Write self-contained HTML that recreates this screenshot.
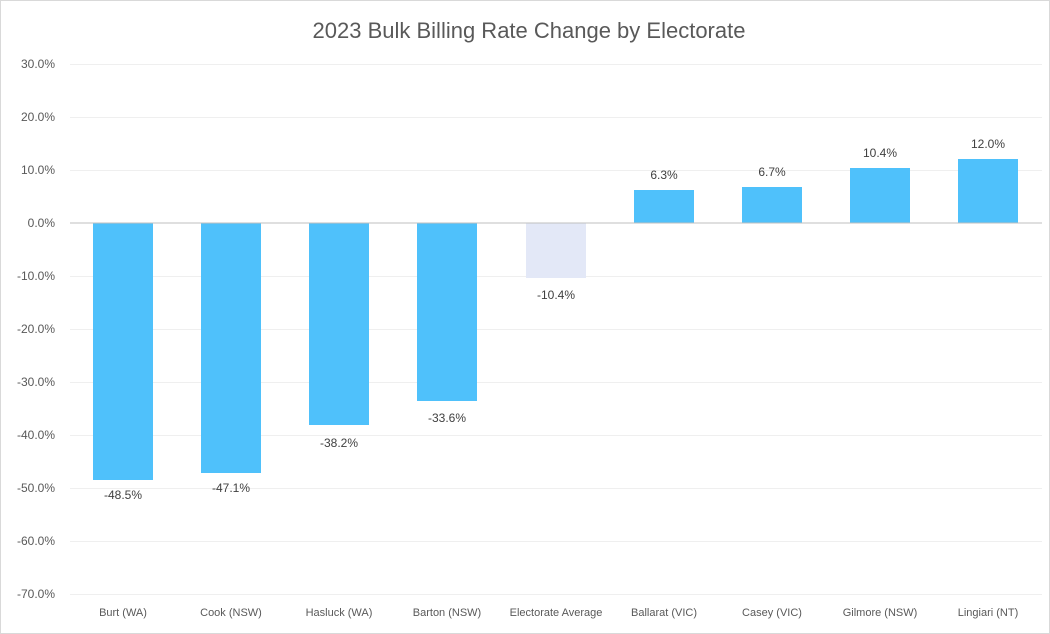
<!DOCTYPE html>
<html><head><meta charset="utf-8"><style>
body{margin:0;background:#fff;}
svg{display:block;font-family:"Liberation Sans",sans-serif;}
</style></head><body>
<svg width="1050" height="634" viewBox="0 0 1050 634">
<rect x="0.5" y="0.5" width="1049" height="633" fill="#fff" stroke="#d9d9d9"/>
<text x="529" y="38" text-anchor="middle" font-size="22" fill="#595959">2023 Bulk Billing Rate Change by Electorate</text>
<g stroke="#efefef" stroke-width="1">
<line x1="70" x2="1042" y1="64.5" y2="64.5"/>
<line x1="70" x2="1042" y1="117.5" y2="117.5"/>
<line x1="70" x2="1042" y1="170.5" y2="170.5"/>
<line x1="70" x2="1042" y1="276.5" y2="276.5"/>
<line x1="70" x2="1042" y1="329.5" y2="329.5"/>
<line x1="70" x2="1042" y1="382.5" y2="382.5"/>
<line x1="70" x2="1042" y1="435.5" y2="435.5"/>
<line x1="70" x2="1042" y1="488.5" y2="488.5"/>
<line x1="70" x2="1042" y1="541.5" y2="541.5"/>
<line x1="70" x2="1042" y1="594.5" y2="594.5"/>
</g>
<g font-size="12" fill="#595959" text-anchor="end">
<text x="55" y="68">30.0%</text><text x="55" y="121">20.0%</text><text x="55" y="174">10.0%</text>
<text x="55" y="227">0.0%</text><text x="55" y="280">-10.0%</text><text x="55" y="333">-20.0%</text>
<text x="55" y="386">-30.0%</text><text x="55" y="439">-40.0%</text><text x="55" y="492">-50.0%</text>
<text x="55" y="545">-60.0%</text><text x="55" y="598">-70.0%</text>
</g>
<g fill="#4fc1fb">
<rect x="93" y="223" width="60" height="257"/>
<rect x="201" y="223" width="60" height="250"/>
<rect x="309" y="223" width="60" height="202"/>
<rect x="417" y="223" width="60" height="178"/>
<rect x="526" y="223" width="60" height="55" fill="#e3e8f7"/>
<rect x="634" y="190" width="60" height="33"/>
<rect x="742" y="187" width="60" height="36"/>
<rect x="850" y="168" width="60" height="55"/>
<rect x="958" y="159" width="60" height="64"/>
</g>
<line x1="70" x2="1042" y1="223" y2="223" stroke="#bfbfbf" stroke-width="1"/>
<g font-size="12" fill="#404040" text-anchor="middle">
<text x="123" y="499">-48.5%</text><text x="231" y="492">-47.1%</text><text x="339" y="447">-38.2%</text>
<text x="447" y="422">-33.6%</text><text x="556" y="299">-10.4%</text><text x="664" y="179">6.3%</text>
<text x="772" y="176">6.7%</text><text x="880" y="157">10.4%</text><text x="988" y="148">12.0%</text>
</g>
<g font-size="11" fill="#595959" text-anchor="middle">
<text x="123" y="616">Burt (WA)</text><text x="231" y="616">Cook (NSW)</text><text x="339" y="616">Hasluck (WA)</text>
<text x="447" y="616">Barton (NSW)</text><text x="556" y="616">Electorate Average</text><text x="664" y="616">Ballarat (VIC)</text>
<text x="772" y="616">Casey (VIC)</text><text x="880" y="616">Gilmore (NSW)</text><text x="988" y="616">Lingiari (NT)</text>
</g>
</svg>
</body></html>
